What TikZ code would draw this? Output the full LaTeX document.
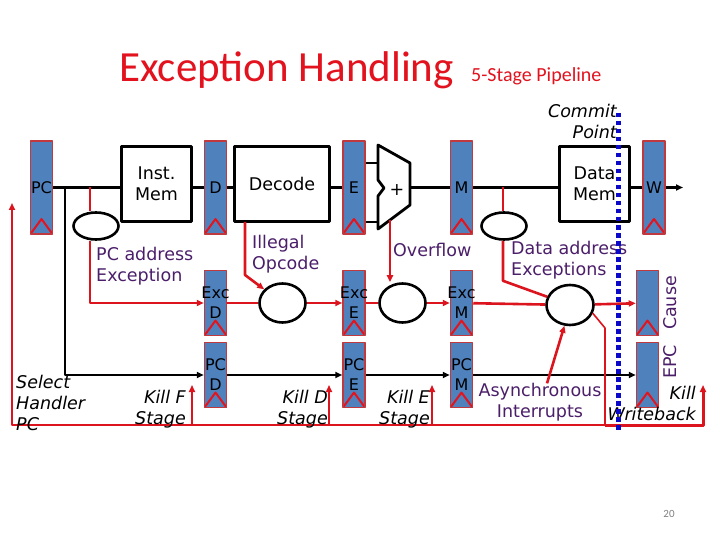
\documentclass[tikz,border=0pt]{standalone}
\usepackage{fontspec}
\setmainfont{DejaVu Sans}
\newfontfamily\titlefont{Carlito}
\usetikzlibrary{arrows.meta,shapes.geometric}

\definecolor{regblue}{RGB}{79,129,189}
\definecolor{regred}{RGB}{192,57,62}
\definecolor{chevred}{RGB}{228,20,30}
\definecolor{excred}{RGB}{220,20,30}
\definecolor{purp}{RGB}{75,30,105}
\definecolor{titlered}{RGB}{226,18,30}
\definecolor{commitblue}{RGB}{10,10,200}

\newcommand\lblfont{\fontsize{17.5}{21}\selectfont}
\newcommand\reglblfont{\fontsize{16}{20}\selectfont}

\tikzset{
  wire/.style={line width=2.6pt},
  exc/.style={draw=excred,line width=2.6pt},
  kill/.style={draw=excred,line width=1.6pt},
  bus/.style={draw=excred,line width=2pt},
  unit/.style={draw,line width=2.8pt,fill=white,minimum width=70pt,minimum height=75pt,
    align=center,inner sep=0pt,font=\lblfont},
  reg/.style={draw=regred,fill=regblue,line width=1.5pt,minimum width=22pt,inner sep=0pt,
    path picture={\draw[chevred,line width=2pt] (path picture bounding box.south west)
      -- ([yshift=15pt]path picture bounding box.south) -- (path picture bounding box.south east);}},
  regtall/.style={reg,minimum height=93pt},
  regshort/.style={reg,minimum height=65pt},
  reglbl/.style={align=center,inner sep=0pt,font=\reglblfont},
  chk/.style={ellipse,draw,line width=2.6pt,minimum width=46pt,minimum height=39pt,inner sep=0pt},
  chksmall/.style={chk,minimum width=45pt,minimum height=27pt},
  note/.style={text=purp,align=left,inner sep=0pt,font=\lblfont},
  kilbl/.style={inner sep=0pt,font=\lblfont\itshape},
}

\begin{document}
\begin{tikzpicture}[x=1pt,y=-1pt,line join=round,>={Triangle[length=7pt,width=6pt]}]
\useasboundingbox (0,0) rectangle (720,540);

% title
\node[anchor=base west,inner sep=0pt,text=titlered,font=\titlefont\fontsize{43}{50}\selectfont] (title) at (119,82) {Exception Handling};
\node[anchor=base west,inner sep=0pt,text=titlered,font=\titlefont\fontsize{20}{24}\selectfont] (subtitle) at (471,82) {5-Stage Pipeline};

% pipeline registers
\node[regtall,label={[reglbl]center:PC}] (pc) at (41.5,187.5) {};
\node[regtall,label={[reglbl]center:D}] (d) at (215.5,187.5) {};
\node[regtall,label={[reglbl]center:E}] (e) at (354,187.5) {};
\node[regtall,label={[reglbl]center:M}] (m) at (461.5,187.5) {};
\node[regtall,label={[reglbl]center:W}] (w) at (654,187.5) {};
\node[regshort,label={[reglbl]center:Exc\\D}] (excd) at (215.5,303) {};
\node[regshort,label={[reglbl]center:Exc\\E}] (exce) at (354,303) {};
\node[regshort,label={[reglbl]center:Exc\\M}] (excm) at (461.5,303) {};
\node[regshort] (cause) at (647.5,303) {};
\node[regshort,label={[reglbl]center:PC\\D}] (pcd) at (215.5,375) {};
\node[regshort,label={[reglbl]center:PC\\E}] (pce) at (354,375) {};
\node[regshort,label={[reglbl]center:PC\\M}] (pcm) at (461.5,375) {};
\node[regshort] (epc) at (647.5,375) {};

% units
\node[unit] (imem) at (156.5,184) {Inst.\\Mem};
\node[unit,minimum width=95pt] (decode) at (282,184) {Decode};
\node[unit] (dmem) at (594.5,184) {Data\\Mem};
\draw[line width=2.8pt] (378,145) -- (410,163) -- (410,205) -- (378,229) -- (378,196) -- (384,188) -- (378,180) -- cycle;
\node[font=\lblfont] (add) at (397,190) {+};

% checks
\node[chksmall] (pcx) at (96,226) {};
\node[chk] (chkd) at (282.5,303) {};
\node[chk] (chke) at (402.5,303) {};
\node[chksmall] (dax) at (504,226) {};
\node[chk,minimum width=47pt,minimum height=40pt] (chkw) at (570,305) {};

\coordinate (fork) at (65,187.5);
\coordinate (pctap) at (90,187.5);
\coordinate (datap) at (503,187.5);
\coordinate (illtap) at (245,222);
\coordinate (addin1) at (378,163);
\coordinate (addin2) at (378,222);
\coordinate (addout) at (410,187.5);
\coordinate (addbot) at (390,220);
\coordinate (wout) at (683,187.5);
\coordinate (kbend) at (605,328);
\coordinate (kbus) at (605,425);
\coordinate (selpc) at (12,203);
\coordinate (killf) at (192,385);
\coordinate (killd) at (329,385);
\coordinate (kille) at (432,385);
\coordinate (killw) at (703,385);
\coordinate (cptop) at (618,113);
\coordinate (cpbot) at (618,433);

% datapath
\draw[wire] (pc) -- (imem.west |- pc);
\draw[wire] (imem.east |- d) -- (d);
\draw[wire] (d) -- (decode.west |- d);
\draw[wire] (decode.east |- e) -- (e);
\draw[wire] (e.east |- addin1) -- (addin1);
\draw[wire] (e.east |- addin2) -- (addin2);
\draw[wire] (addout) -- (m.west |- addout);
\draw[wire] (m) -- (dmem.west |- m);
\draw[wire] (dmem.east |- w) -- (w);
\draw[wire,->] (w) -- (wout);
\draw[wire,->] (fork) |- (pcd);
\draw[wire,->] (pcd) -- (pce);
\draw[wire,->] (pce) -- (pcm);
\draw[wire,->] (pcm) -- (epc);

% exception path
\draw[exc] (pctap) -- (pctap |- pcx.north);
\draw[exc,->] (pctap |- pcx.south) |- (excd);
\draw[exc] (excd) -- (chkd);
\draw[exc,->] (illtap) -- ++(0,53) -- (chkd);
\draw[exc,->] (chkd) -- (exce);
\draw[exc] (exce) -- (chke);
\draw[exc,->] (addbot) -- (addbot |- chke.north);
\draw[exc,->] (chke) -- (excm);
\draw[exc] (excm) -- (chkw);
\draw[exc] (datap) -- (datap |- dax.north);
\draw[exc] (datap |- dax.south) -- ++(0,40) -- (chkw);
\draw[exc,->] (chkw) -- (cause);

% kill lines
\draw[kill] (chkw.-20) -- (kbend) -- (kbus);
\draw[bus,->] (kbus) -| (selpc);
\draw[bus,->,line width=3pt] (kbus) -| (killw);
\foreach \k in {killf,killd,kille}
  \draw[kill,->] (\k |- kbus) -- (\k);

% labels
\node[note,anchor=west] (pcaddr) at (96,266.5) {PC address\\Exception};
\node[note,anchor=west] (illop) at (252,254.5) {Illegal\\Opcode};
\node[note,anchor=west] (ovf) at (393,250) {Overflow};
\node[note,anchor=west] (daddr) at (511,260) {Data address\\Exceptions};
\node[note,align=center] (async) at (540,402.5) {Asynchronous\\Interrupts};
\node[note,rotate=90] (causelbl) at (670,303) {Cause};
\node[note,rotate=90] (epclbl) at (670,362) {EPC};
\draw[exc,->] ([xshift=7pt]async.north) -- (chkw.255);

\node[kilbl,anchor=west,align=left] (selh) at (16,403) {Select\\Handler\\PC};
\node[kilbl,anchor=east,align=right] (kf) at (186,409) {Kill F\\Stage};
\node[kilbl,anchor=east,align=right] (kd) at (328,409) {Kill D\\Stage};
\node[kilbl,anchor=east,align=right] (ke) at (430,409) {Kill E\\Stage};
\node[kilbl,anchor=east,align=right] (kwb) at (696,403) {Kill\\Writeback};
\node[kilbl,anchor=east,align=right] (commit) at (617,121) {Commit\\Point};

% commit point
\draw[commitblue,line width=5pt,dash pattern=on 4.5pt off 3.5pt] (cptop) -- (cpbot);

\node[font=\titlefont\fontsize{11}{13}\selectfont,text=gray] (pageno) at (669,514) {20};
\end{tikzpicture}
\end{document}
